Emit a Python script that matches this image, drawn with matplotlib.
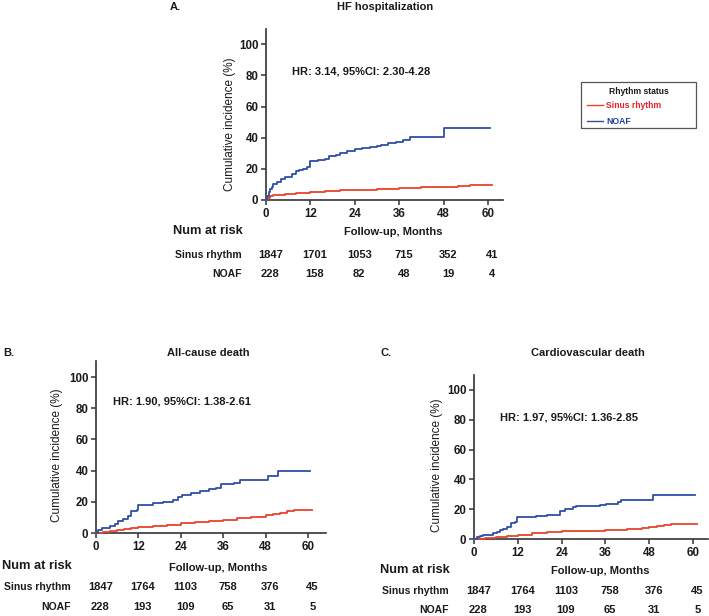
import matplotlib
matplotlib.use("Agg")
import matplotlib.pyplot as plt
from matplotlib.lines import Line2D
from matplotlib.patches import Rectangle
import matplotlib.transforms as mtransforms

plt.rcParams['font.family'] = ['Liberation Sans', 'DejaVu Sans']

W, H = 709, 616
RED = '#E8432A'
BLUE = '#2E4FA3'
TXT = '#1a1a1a'

# ---------------- data ----------------
months_ticks = [0, 12, 24, 36, 48, 60]
y_ticks = [0, 20, 40, 60, 80, 100]

A_sinus_t = [0, 0.5, 1, 2, 3, 5, 8, 12, 16, 20, 24, 30, 36, 42, 48, 52, 55, 58, 61]
A_sinus_v = [0, 1.5, 2.3, 3.0, 3.5, 4.0, 4.5, 5.2, 5.7, 6.2, 6.6, 7.2, 7.9, 8.3, 8.6, 8.9, 9.5, 9.7, 9.8]
A_noaf_t = [0, 0.3, 0.7, 1, 1.5, 2, 3, 4, 5, 6, 7, 8, 9, 10, 11, 12, 14, 16, 17, 18, 19, 20, 21, 22,
            24, 26, 28, 30, 31, 33, 35, 37, 39, 42, 48, 60.5]
A_noaf_v = [0, 2.5, 5, 7, 8.5, 10, 11.5, 13.5, 14.5, 15, 16.5, 18.5, 19.5, 20, 21.5, 25, 25.8, 26.5, 28,
            28.5, 29.2, 30, 30.5, 31.5, 33, 33.5, 34, 35, 35.5, 36.8, 37.3, 38.5, 40.5, 40.5, 46, 46]

B_sinus_t = [0, 2, 4, 6, 8, 10, 12, 16, 20, 24, 28, 32, 36, 40, 44, 48, 50, 52, 54, 56, 61]
B_sinus_v = [0, 0.8, 1.5, 2.0, 2.5, 3.0, 3.7, 4.5, 5.3, 6.3, 7.0, 7.6, 8.4, 9.5, 10.5, 11.5, 12.0,
             12.8, 13.8, 14.6, 14.6]
B_noaf_t = [0, 0.7, 1.6, 4, 5.4, 6.3, 7.7, 9, 10, 11.5, 12, 16, 19, 20, 21.8, 23.3, 24.2, 27, 29.4,
            32, 34, 35.5, 39, 40.7, 48.7, 51.5, 60.5]
B_noaf_v = [0, 2, 3.2, 4.3, 6, 7.5, 9, 10.7, 14, 14.5, 18, 19, 19.7, 20, 21, 23, 24.6, 25.6, 27, 28,
            29, 31.4, 32, 34.2, 36.8, 39.5, 39.5]

C_sinus_t = [0, 3, 6, 9, 12, 16, 20, 24, 30, 36, 42, 46, 48, 50, 52, 54, 61]
C_sinus_v = [0, 0.8, 1.5, 2.2, 3.0, 3.8, 4.4, 5.2, 5.7, 6.2, 6.8, 7.3, 7.8, 8.5, 9.2, 10.1, 10.1]
C_noaf_t = [0, 0.8, 1.6, 2.5, 5.3, 6.2, 7.1, 8, 9, 10, 11.2, 11.7, 17, 20, 23.5, 25, 27, 28, 34.5,
            36.3, 39.5, 40.4, 49, 60.5]
C_noaf_v = [0, 1.2, 2.2, 3, 4, 5, 6.2, 7, 8, 10.7, 11.4, 14.8, 15.2, 16.3, 18.5, 20, 21.2, 22, 22.8,
            23.7, 24.5, 26.3, 29.2, 29.2]

A_risk_sinus = [1847, 1701, 1053, 715, 352, 41]
A_risk_noaf = [228, 158, 82, 48, 19, 4]
B_risk_sinus = [1847, 1764, 1103, 758, 376, 45]
B_risk_noaf = [228, 193, 109, 65, 31, 5]
C_risk_sinus = [1847, 1764, 1103, 758, 376, 45]
C_risk_noaf = [228, 193, 109, 65, 31, 5]

titles = ["HF hospitalization", "All-cause death", "Cardiovascular death"]
letters = ["A.", "B.", "C."]
hr_texts = ["HR: 3.14, 95%CI: 2.30-4.28", "HR: 1.90, 95%CI: 1.38-2.61", "HR: 1.97, 95%CI: 1.36-2.85"]
group_labels = ["Sinus rhythm", "NOAF"]
ylabel = "Cumulative incidence (%)"
xlabel = "Follow-up, Months"

# ---------------- figure ----------------
fig = plt.figure(figsize=(W / 100, H / 100), dpi=100)


def px(x, y):
    return x / W, 1 - y / H


def ft(x, y, s, **kw):
    fx, fy = px(x, y)
    kw.setdefault('va', 'center')
    kw.setdefault('color', TXT)
    return fig.text(fx, fy, s, **kw)


def make_ax(left, right, y0, y100, xmax):
    top_px = y0 - (y0 - y100) * 1.10
    l, b = left / W, 1 - y0 / H
    w = (right - left) / W
    h = (y0 - top_px) / H
    ax = fig.add_axes([l, b, w, h])
    ax.set_xlim(0, xmax)
    ax.set_ylim(0, 110)
    for s in ['top', 'right']:
        ax.spines[s].set_visible(False)
    for s in ['left', 'bottom']:
        ax.spines[s].set_color('#333333')
        ax.spines[s].set_linewidth(1.2)
    ax.set_xticks(months_ticks)
    ax.set_yticks(y_ticks)
    ax.tick_params(direction='out', length=3.5, width=1.1, color='#333333',
                   labelsize=8.3, labelcolor=TXT, pad=2)
    for lab in ax.get_xticklabels() + ax.get_yticklabels():
        lab.set_fontweight('bold')
    return ax


panels = [
    dict(left=266, x60=488, y0=200, y100=44.3, xmax=64,
         sinus=(A_sinus_t, A_sinus_v), noaf=(A_noaf_t, A_noaf_v),
         risk=(A_risk_sinus, A_risk_noaf),
         title_xy=(385, 7), letter_xy=(170, 7), hr_xy=(292, 71),
         ylab_xy=(230, 124), nar_xy=(173, 231), fu_xy=(393, 232),
         lab_right=242, rows_y=(255, 274)),
    dict(left=96, x60=308, y0=533, y100=377, xmax=65,
         sinus=(B_sinus_t, B_sinus_v), noaf=(B_noaf_t, B_noaf_v),
         risk=(B_risk_sinus, B_risk_noaf),
         title_xy=(208, 353), letter_xy=(3, 353), hr_xy=(113, 402),
         ylab_xy=(57, 455), nar_xy=(2, 566), fu_xy=(218, 568),
         lab_right=71, rows_y=(587, 607)),
    dict(left=474, x60=693, y0=539, y100=390, xmax=64,
         sinus=(C_sinus_t, C_sinus_v), noaf=(C_noaf_t, C_noaf_v),
         risk=(C_risk_sinus, C_risk_noaf),
         title_xy=(588, 353), letter_xy=(380, 353), hr_xy=(500, 417),
         ylab_xy=(437, 465), nar_xy=(380, 570), fu_xy=(600, 571),
         lab_right=449, rows_y=(591, 610)),
]

for i, p in enumerate(panels):
    right_px = p['left'] + (p['x60'] - p['left']) / 60 * p['xmax']
    ax = make_ax(p['left'], right_px, p['y0'], p['y100'], p['xmax'])
    ax.plot(*p['sinus'], drawstyle='steps-post', color=RED, lw=1.3, clip_on=False, zorder=3)
    ax.plot(*p['noaf'], drawstyle='steps-post', color=BLUE, lw=1.3, clip_on=False, zorder=4)

    ft(*p['title_xy'], titles[i], ha='center', fontsize=8, fontweight='bold')
    ft(*p['letter_xy'], letters[i], ha='left', fontsize=8, fontweight='bold')
    ft(*p['hr_xy'], hr_texts[i], ha='left', fontsize=8, fontweight='bold')
    ft(*p['ylab_xy'], ylabel, ha='center', rotation=90, fontsize=8.5)
    ft(*p['nar_xy'], "Num at risk", ha='left', fontsize=9.3, fontweight='bold')
    ft(*p['fu_xy'], xlabel, ha='center', fontsize=8, fontweight='bold')

    ft(p['lab_right'], p['rows_y'][0], group_labels[0], ha='right', fontsize=7.5, fontweight='bold')
    ft(p['lab_right'], p['rows_y'][1], group_labels[1], ha='right', fontsize=7.5, fontweight='bold')

    trans = mtransforms.blended_transform_factory(ax.transData, fig.transFigure)
    for row, yrow in zip(p['risk'], p['rows_y']):
        for m, n in zip(months_ticks, row):
            ax.text(m + 1.2, 1 - yrow / H, str(n), transform=trans, ha='center', va='center',
                    fontsize=8, fontweight='bold', color=TXT)

# ---------------- legend (manual) ----------------
bx0, by0, bx1, by1 = 581, 82, 696, 128
rect = Rectangle(px(bx0, by1), (bx1 - bx0) / W, (by1 - by0) / H, transform=fig.transFigure,
                 fill=False, edgecolor='#555555', lw=0.9)
fig.add_artist(rect)
ft(638.5, 91, "Rhythm status", ha='center', fontsize=6.2, fontweight='bold')
for lab, col, yy, tcol in [(group_labels[0], RED, 105, '#E8202A'), (group_labels[1], BLUE, 121, '#1F3F9F')]:
    x0, y0f = px(587, yy)
    x1, _ = px(603, yy)
    fig.add_artist(Line2D([x0, x1], [y0f, y0f], transform=fig.transFigure, color=col, lw=1.0))
    ft(606, yy, lab, ha='left', fontsize=6.2, fontweight='bold', color=tcol)

fig.savefig("out.png", dpi=100)
